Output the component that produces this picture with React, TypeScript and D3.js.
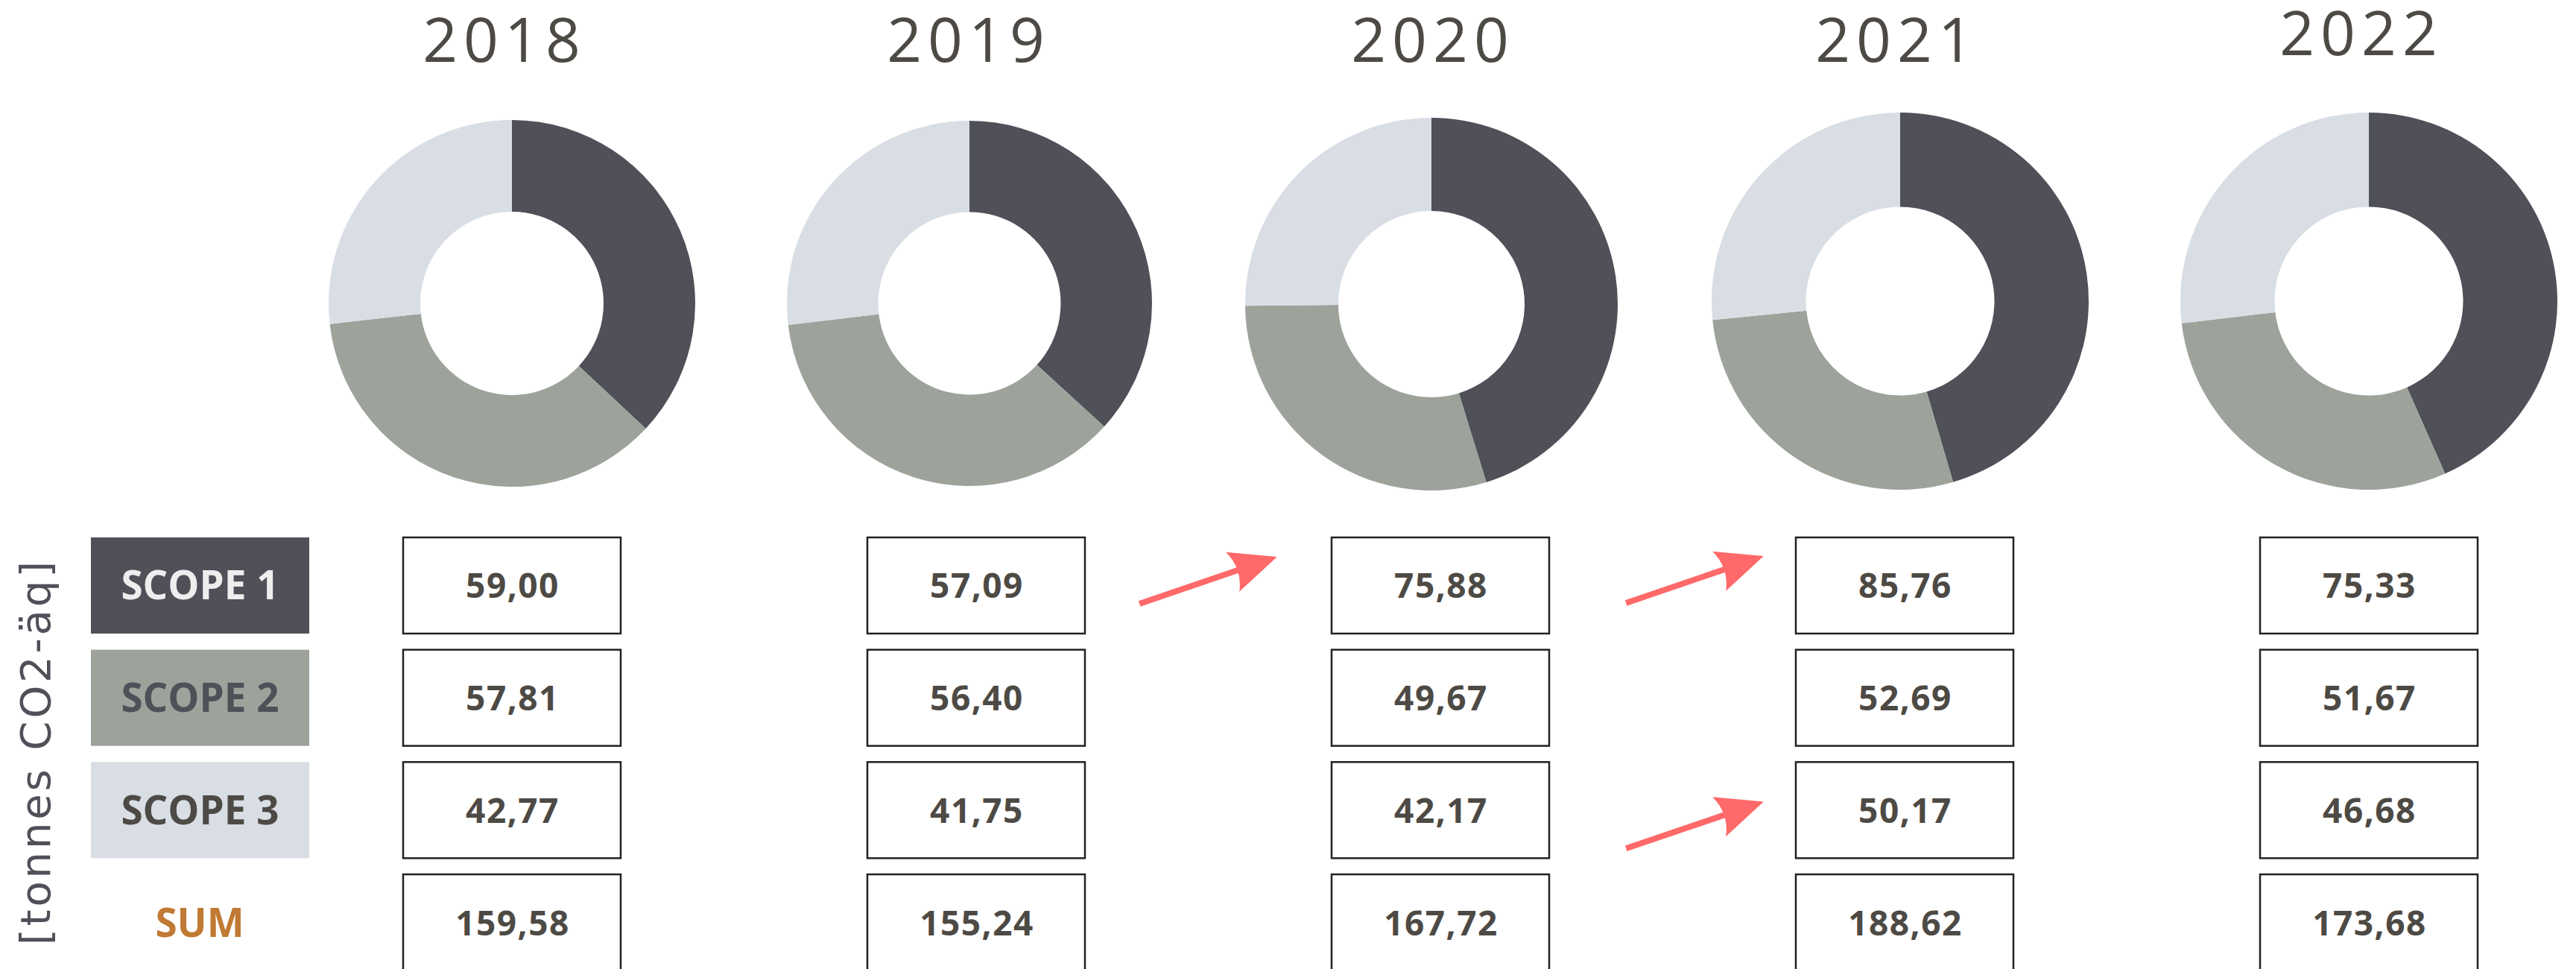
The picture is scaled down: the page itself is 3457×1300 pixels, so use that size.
import {useEffect} from "react";
import * as d3 from "d3";

// values in tonnes CO2-äq
const years = ["2018", "2019", "2020", "2021", "2022"];
const scopes = ["SCOPE 1", "SCOPE 2", "SCOPE 3"];
const scope1 = [59.00, 57.09, 75.88, 85.76, 75.33];
const scope2 = [57.81, 56.40, 49.67, 52.69, 51.67];
const scope3 = [42.77, 41.75, 42.17, 50.17, 46.68];
const sumLabel = "SUM";
const unitLabel = "[tonnes CO2-äq]";

// increases that are flagged with a red arrow
const arrows = [
    {from: "2019", to: "2020", row: "SCOPE 1"},
    {from: "2020", to: "2021", row: "SCOPE 1"},
    {from: "2020", to: "2021", row: "SCOPE 3"},
];

const width = 3457;
const height = 1300;

const scopeFill = ["#4f5058", "#9da29b", "#d9dee5"];
const scopeText = ["#eeeeee", "#4f5058", "#4d4a45"];
const textColor = "#4d4a45";

// small per-column tweaks so the donuts sit like the original slide
const donutR = [246, 245, 250, 253, 253];
const donutDx = [0, -9, -12, -6, 0];
const donutCy = [407, 407, 408, 404, 404];
const titleY = [83, 83, 83, 83, 74];
const arrowNudge = [[0, -7], [30, -8], [30, 20]];

const fmt = d3.formatLocale({decimal: ",", thousands: " ", grouping: [3], currency: ["", ""]}).format(".2f");

export default function App() {

    useEffect(() => {
        document.body.style.margin = "0";
    }, []);

    const series = [scope1, scope2, scope3];
    const sums = years.map((_, i) => d3.sum(series, s => s[i]));

    const x = d3.scalePoint<string>()
        .domain(years)
        .range([687, 3179]);

    const y = d3.scaleBand<string>()
        .domain([...scopes, sumLabel])
        .range([721, 1302])
        .paddingInner(0.144)
        .paddingOuter(0);

    const bw = y.bandwidth();
    const boxW = 292;

    const pie = d3.pie<number>().sort(null).value(d => d);
    const arc = d3.arc<d3.PieArcDatum<number>>();

    // arrow drawn along +x, then rotated
    const arrowLen = 195;
    const arrowAngle = Math.atan2(-63, 185) * 180 / Math.PI;

    return (
        <svg width={width} height={height} viewBox={`0 0 ${width} ${height}`} style={{display: "block"}}>
            <rect width={width} height={height} fill="#ffffff"/>

            {/* year titles + donuts */}
            {years.map((yr, i) => {
                const cx = (x(yr) ?? 0) + donutDx[i];
                const r = donutR[i];
                const slices = pie(series.map(s => s[i]));
                return (
                    <g key={yr}>
                        <text x={(x(yr) ?? 0) - 10} y={titleY[i]} textAnchor="middle"
                              fontFamily="'Open Sans', sans-serif" fontSize={82} letterSpacing={8}
                              fill={textColor}>{yr}</text>
                        <g transform={`translate(${cx},${donutCy[i]})`}>
                            {slices.map((s, j) => (
                                <path key={j}
                                      d={arc({...s, innerRadius: r * 0.5, outerRadius: r}) ?? ""}
                                      fill={scopeFill[j]}/>
                            ))}
                        </g>
                    </g>
                );
            })}

            {/* row labels */}
            {scopes.map((sc, j) => (
                <g key={sc}>
                    <rect x={122} y={y(sc)} width={293} height={bw} fill={scopeFill[j]}/>
                    <text x={122 + 293 / 2} y={(y(sc) ?? 0) + bw / 2 + 19} textAnchor="middle"
                          fontFamily="'Open Sans', sans-serif" fontWeight={700} fontSize={53}
                          fill={scopeText[j]}>{sc}</text>
                </g>
            ))}
            <text x={268} y={(y(sumLabel) ?? 0) + bw / 2 + 19} textAnchor="middle"
                  fontFamily="'Open Sans', sans-serif" fontWeight={700} fontSize={53}
                  fill="#c07a33">{sumLabel}</text>

            {/* unit label */}
            <text transform={`translate(67,${(753 + 1268) / 2}) rotate(-90)`} textAnchor="middle"
                  fontFamily="'DejaVu Sans', sans-serif" fontWeight={400} fontSize={56}
                  textLength={515} lengthAdjust="spacing"
                  fill="#4f5058">{unitLabel}</text>

            {/* value boxes */}
            {years.map((yr, i) => (
                <g key={"v" + yr}>
                    {[...series.map(s => s[i]), sums[i]].map((v, j) => {
                        const row = y.domain()[j];
                        const top = y(row) ?? 0;
                        return (
                            <g key={row}>
                                <rect x={(x(yr) ?? 0) - boxW / 2} y={top} width={boxW} height={bw}
                                      fill="#ffffff" stroke="#222222" strokeWidth={2.5}/>
                                <text x={(x(yr) ?? 0) + 1} y={top + bw / 2 + 17} textAnchor="middle"
                                      fontFamily="'Open Sans', sans-serif" fontWeight={700} fontSize={46}
                                      letterSpacing={1.5}
                                      fill={textColor}>{fmt(v)}</text>
                            </g>
                        );
                    })}
                </g>
            ))}

            {/* increase arrows */}
            {arrows.map((a, k) => {
                const mx = ((x(a.from) ?? 0) + (x(a.to) ?? 0)) / 2 + arrowNudge[k][0];
                const my = (y(a.row) ?? 0) + bw / 2 + arrowNudge[k][1];
                return (
                    <g key={k} transform={`translate(${mx},${my}) rotate(${arrowAngle}) translate(${-arrowLen / 2},0)`}>
                        <line x1={0} y1={0} x2={140} y2={0} stroke="#ff6969" strokeWidth={8}/>
                        <path d={`M${arrowLen},0 L132,-28 Q146,0 132,28 Z`} fill="#ff6969"/>
                    </g>
                );
            })}
        </svg>
    );
}
